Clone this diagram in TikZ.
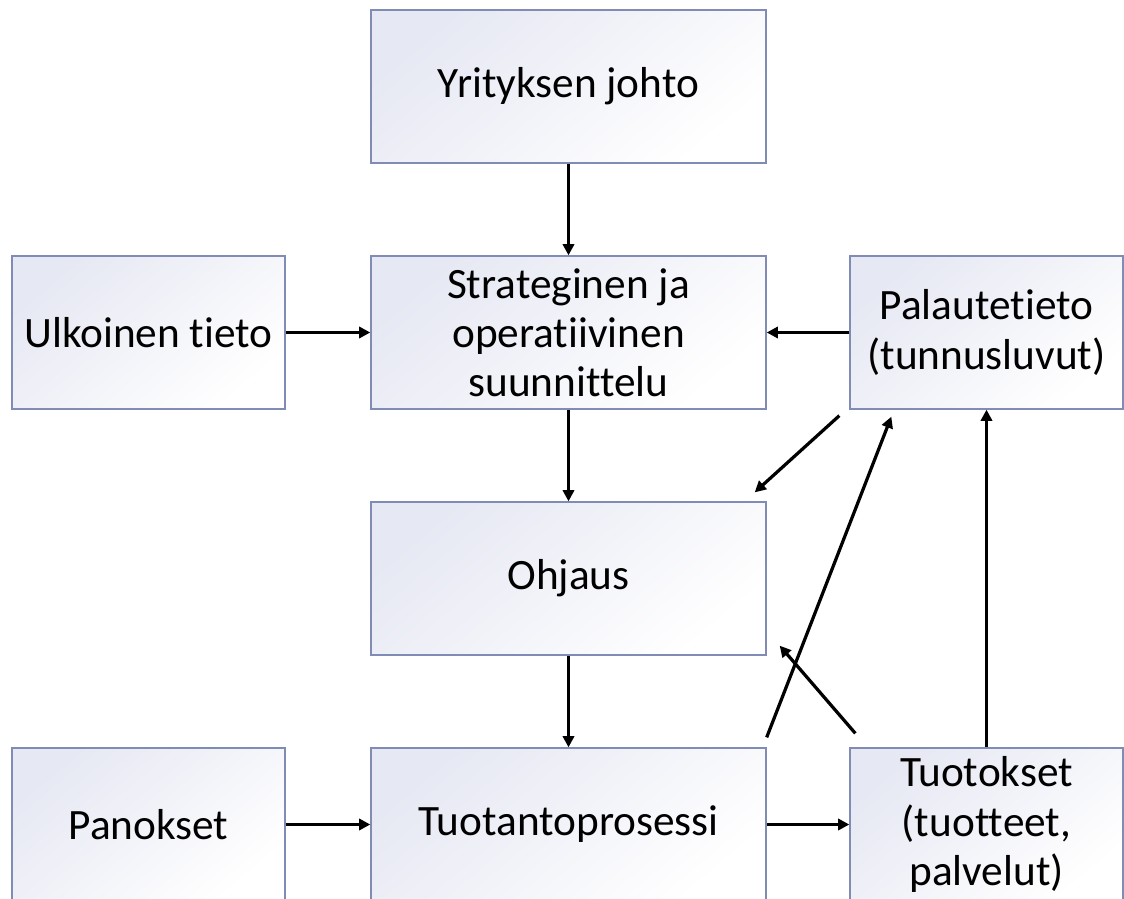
\documentclass[tikz,border=0pt]{standalone}
\usepackage{fontspec}
\setmainfont[Ligatures=NoCommon]{Carlito}
\usetikzlibrary{arrows.meta,calc}

\definecolor{boxline}{RGB}{128,140,182}
\definecolor{boxfill}{RGB}{230,232,243}

\tikzset{
  box/.style={draw=boxline,line width=0.9pt,top color=boxfill,bottom color=white,
    shading angle=40,minimum width=9.875cm,minimum height=3.825cm,align=center,
    font=\fontsize{30.8}{35}\selectfont,inner sep=0pt},
  smallbox/.style={box,minimum width=6.825cm},
  arr/.style={line width=2.3pt,-{Triangle[length=8pt,width=8pt]}}
}

\begin{document}
\begin{tikzpicture}[x=0.025cm,y=-0.025cm]
% picture is cut at the bottom like the original
\clip (0,0) rectangle (1124,899);
\fill[white] (0,0) rectangle (1124,899);

\node[box] (johto) at (568.5,86.5) {Yrityksen johto};
\node[smallbox] (ulk) at (148.5,332.5) {Ulkoinen tieto};
\node[box] (strat) at (568.5,332.5) {Strateginen ja\\operatiivinen\\suunnittelu};
\node[smallbox] (pal) at (986.5,332.5) {Palautetieto\\(tunnusluvut)};
\node[box] (ohj) at (568.5,578.5) {Ohjaus};
\node[smallbox] (pan) at (148.5,824.5) {Panokset};
\node[box] (tuot) at (568.5,824.5) {Tuotantoprosessi};
\node[smallbox] (out) at (986.5,824.5) {Tuotokset\\(tuotteet,\\palvelut)};

\draw [arr] (johto) -- (strat);
\draw [arr] (ulk) -- (strat);
\draw [arr] (pal) -- (strat);
\draw [arr] (strat) -- (ohj);
\draw [arr] (ohj) -- (tuot);
\draw [arr] (pan) -- (tuot);
\draw [arr] (tuot) -- (out);
\draw [arr] (out) -- (pal);

% feedback arrows, loose ends
\draw [arr] ($(pal.south west)+(-10,6)$) -- ($(ohj.north east)+(-12,-9)$);
\draw [arr] ($(tuot.north east)+(0,-10)$) -- ($(pal.south west)+(42,7)$);
\draw [arr] ($(out.north west)+(6,-14)$) -- ($(ohj.south east)+(13,-10)$);
\end{tikzpicture}
\end{document}
